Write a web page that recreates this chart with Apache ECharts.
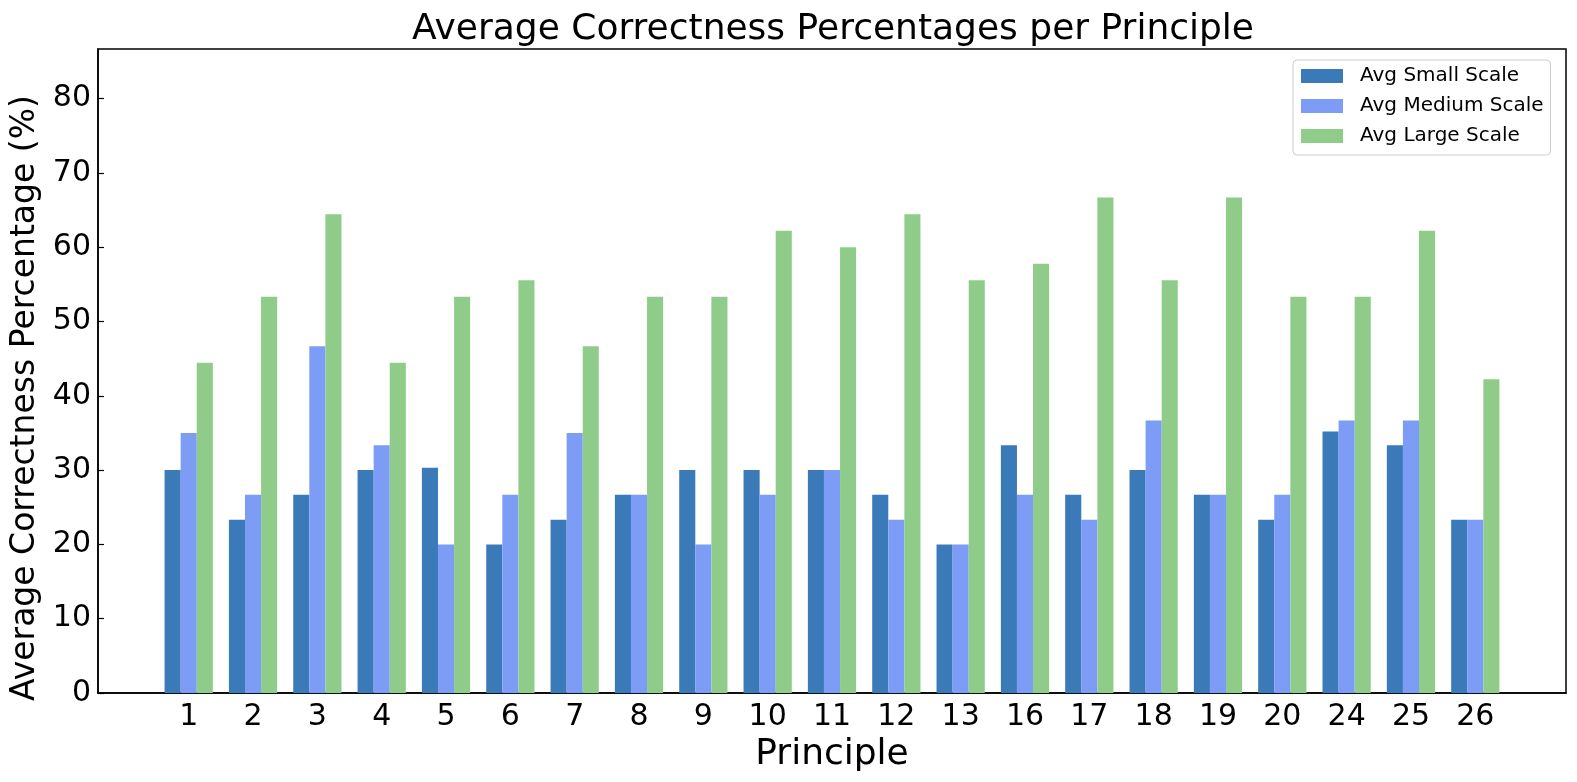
<!DOCTYPE html>
<html>
<head>
<meta charset="utf-8">
<script src="https://cdn.jsdelivr.net/npm/echarts@6/dist/echarts.min.js"></script>
<style>
html,body{margin:0;padding:0;background:#fff;}
#chart{width:1577px;height:782px;}
</style>
</head>
<body>
<div id="chart"></div>
<script>
const categories = ['1','2','3','4','5','6','7','8','9','10','11','12','13','16','17','18','19','20','24','25','26'];
const avgSmall  = [30, 23.33, 26.67, 30, 30.3, 20, 23.33, 26.67, 30, 30, 30, 26.67, 20, 33.33, 26.67, 30, 26.67, 23.33, 35.2, 33.33, 23.33];
const avgMedium = [35, 26.67, 46.67, 33.33, 20, 26.67, 35, 26.67, 20, 26.67, 30, 23.33, 20, 26.67, 23.33, 36.67, 26.67, 26.67, 36.67, 36.67, 23.33];
const avgLarge  = [44.44, 53.33, 64.44, 44.44, 53.33, 55.56, 46.67, 53.33, 53.33, 62.22, 60, 64.44, 55.56, 57.78, 66.67, 55.56, 66.67, 53.33, 53.33, 62.22, 42.22];
const yTicks = [0, 10, 20, 30, 40, 50, 60, 70, 80];
const seriesNames = ['Avg Small Scale', 'Avg Medium Scale', 'Avg Large Scale'];
const colors = ['#3a7ab8', '#7d9cf6', '#8fcc8a'];

const FONT = 'DejaVu Sans';
const xPos = categories.map((c, i) => i);
const toPairs = arr => arr.map((v, i) => [i, v]);

const chart = echarts.init(document.getElementById('chart'));
chart.setOption({
  animation: false,
  backgroundColor: '#ffffff',
  title: {
    text: 'Average Correctness Percentages per Principle',
    left: 828,
    top: 7,
    textAlign: 'center',
    textStyle: { fontFamily: FONT, fontSize: 36, fontWeight: 'normal', color: '#000' }
  },
  legend: {
    orient: 'vertical',
    left: 1293,
    top: 60,
    icon: 'rect',
    itemWidth: 42,
    itemHeight: 14,
    itemGap: 10,
    padding: [6, 7, 9, 8],
    borderColor: '#cccccc',
    borderWidth: 1,
    borderRadius: 4,
    backgroundColor: 'rgba(255,255,255,0.8)',
    textStyle: { fontFamily: FONT, fontSize: 20, color: '#000', padding: [0, 0, 0, 12] },
    data: seriesNames
  },
  grid: {
    left: 98, right: 11, top: 49, bottom: 89,
    show: true, borderColor: '#000', borderWidth: 1.5, backgroundColor: 'transparent'
  },
  xAxis: {
    type: 'value',
    min: -1.41,
    max: 21.41,
    name: 'Principle',
    nameLocation: 'middle',
    nameGap: 39,
    nameTextStyle: { fontFamily: FONT, fontSize: 36, color: '#000' },
    axisLine: { show: true, onZero: false, lineStyle: { color: '#000', width: 1.5 } },
    axisTick: { show: true, inside: true, length: 6, customValues: xPos, lineStyle: { color: '#000', width: 1.2 } },
    axisLabel: {
      show: true, customValues: xPos, margin: 9,
      fontFamily: FONT, fontSize: 30, color: '#000',
      formatter: v => categories[Math.round(v)] ?? ''
    },
    splitLine: { show: false }
  },
  yAxis: {
    type: 'value',
    min: 0,
    max: 86.67,
    name: 'Average Correctness Percentage (%)',
    nameLocation: 'middle',
    nameGap: 52,
    nameTextStyle: { fontFamily: FONT, fontSize: 33, color: '#000', padding: [0, 54, 0, 0] },
    axisLine: { show: true, onZero: false, lineStyle: { color: '#000', width: 1.5 } },
    axisTick: { show: true, inside: true, length: 6, customValues: yTicks, lineStyle: { color: '#000', width: 1.2 } },
    axisLabel: {
      show: true, customValues: yTicks, margin: 7,
      fontFamily: FONT, fontSize: 30, color: '#000'
    },
    splitLine: { show: false }
  },
  series: [
    { name: seriesNames[0], type: 'bar', data: toPairs(avgSmall), barWidth: '25%', barGap: '0%', itemStyle: { color: colors[0] } },
    { name: seriesNames[1], type: 'bar', data: toPairs(avgMedium), barWidth: '25%', barGap: '0%', itemStyle: { color: colors[1] } },
    { name: seriesNames[2], type: 'bar', data: toPairs(avgLarge), barWidth: '25%', barGap: '0%', itemStyle: { color: colors[2] } }
  ]
});
</script>
</body>
</html>
